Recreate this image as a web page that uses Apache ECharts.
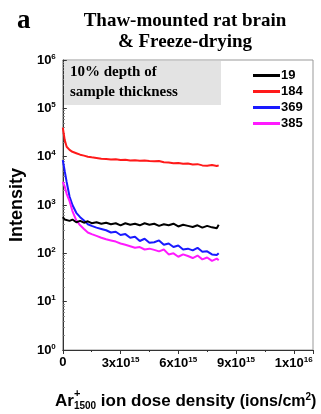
<!DOCTYPE html>
<html>
<head>
<meta charset="utf-8">
<script src="https://cdn.jsdelivr.net/npm/echarts@6/dist/echarts.min.js"></script>
<style>
html, body { margin: 0; padding: 0; background: #fff; }
#chart { width: 321px; height: 414px; }
</style>
</head>
<body>
<div id="chart"></div>
<script>
// dose density, units of 1e15 ions/cm2
var doseX = [0, 0.1, 0.2, 0.35, 0.5, 0.7, 0.9, 1.1, 1.3, 1.5, 1.75, 2.0, 2.25, 2.5, 2.75, 3.0, 3.25, 3.5, 3.75,
    4.0, 4.25, 4.5, 4.75, 5.0, 5.25, 5.5, 5.75, 6.0, 6.25, 6.5, 6.75, 7.0, 7.25, 7.5, 7.75, 8.0, 8.1];

var seriesNames = ['19', '184', '369', '385'];
var seriesColors = ['#000000', '#ff1a1a', '#1a1aff', '#ff1aff'];

var mz19 = [560, 500, 540, 470, 500, 440, 470, 430, 460, 420, 440, 410, 430, 400, 420, 380, 420, 390, 410,
    380, 420, 390, 410, 370, 400, 380, 410, 360, 390, 370, 350, 380, 340, 370, 345, 330, 390];
var mz184 = [40000, 22000, 16000, 13800, 12600, 11800, 11000, 10500, 10000, 9700, 9400, 9100, 8900, 8700, 8800, 8500, 8600, 8300, 8400,
    8200, 8300, 8100, 8000, 8100, 7700, 7600, 7300, 7400, 7100, 7200, 6900, 7000, 6600, 6500, 6700, 6400, 6600];
var mz369 = [8500, 5000, 3000, 1500, 1000, 690, 560, 480, 400, 370, 340, 320, 300, 270, 280, 240, 250, 210, 220,
    180, 200, 165, 170, 185, 150, 160, 135, 145, 120, 125, 115, 130, 108, 110, 95, 92, 100];
var mz385 = [3000, 2400, 1700, 1200, 750, 480, 380, 320, 270, 250, 230, 210, 195, 185, 175, 160, 150, 140, 130,
    135, 120, 125, 118, 110, 120, 95, 100, 85, 95, 88, 80, 90, 75, 82, 70, 78, 72];

var xTickValues = [0, 3, 6, 9, 12];
var xTickMant = ['0', '3x10', '6x10', '9x10', '1x10'];
var xTickExp = ['', '15', '15', '15', '16'];

var chart = echarts.init(document.getElementById('chart'));

function pairUp(ys) {
    var out = [];
    for (var i = 0; i < doseX.length; i++) {
        out.push([doseX[i], ys[i]]);
    }
    return out;
}

var allValues = [mz19, mz184, mz369, mz385];
var series = [];
for (var i = 0; i < seriesNames.length; i++) {
    series.push({
        name: seriesNames[i],
        type: 'line',
        showSymbol: false,
        symbol: 'none',
        data: pairUp(allValues[i]),
        lineStyle: { color: seriesColors[i], width: 2 },
        itemStyle: { color: seriesColors[i] },
        z: i == 0 ? 5 : 3
    });
}

var option = {
    animation: false,
    backgroundColor: '#fff',
    grid: {
        left: 62, right: 8, top: 60, bottom: 64,
        show: true, borderColor: '#999', borderWidth: 1
    },
    legend: {
        orient: 'vertical',
        left: 248, top: 64,
        itemWidth: 27, itemHeight: 3, itemGap: 3,
        icon: 'rect',
        data: seriesNames,
        textStyle: { fontFamily: 'Liberation Sans', fontWeight: 'bold', fontSize: 13, color: '#000', padding: [0, 0, 0, -4] }
    },
    xAxis: {
        type: 'value',
        min: 0, max: 13, interval: 3,
        axisLine: { show: true, lineStyle: { color: '#333', width: 1 } },
        axisTick: { show: true, inside: false, length: 4, lineStyle: { color: '#333' } },
        minorTick: { show: true, splitNumber: 2, length: 2, lineStyle: { color: '#333' } },
        splitLine: { show: false },
        axisLabel: {
            margin: 6,
            formatter: function(v) {
                var k = xTickValues.indexOf(v);
                if (k < 0) return '';
                if (!xTickExp[k]) return '{m|' + xTickMant[k] + '}';
                return '{m|' + xTickMant[k] + '}{e|' + xTickExp[k] + '}';
            },
            rich: {
                m: { fontFamily: 'Liberation Sans', fontWeight: 'bold', fontSize: 13, color: '#000' },
                e: { fontFamily: 'Liberation Sans', fontWeight: 'bold', fontSize: 8, color: '#000', verticalAlign: 'top', padding: [0, 0, 7, 0] }
            }
        }
    },
    yAxis: {
        type: 'log',
        logBase: 10,
        min: 1, max: 1000000,
        name: 'Intensity',
        nameLocation: 'middle',
        nameGap: 34,
        nameTextStyle: { fontFamily: 'Liberation Sans', fontWeight: 'bold', fontSize: 18, color: '#000' },
        axisLine: { show: true, lineStyle: { color: '#333', width: 1 } },
        axisTick: { show: true, inside: true, length: 4, lineStyle: { color: '#333' } },
        minorTick: { show: true, splitNumber: 9, length: 2, lineStyle: { color: '#777' } },
        splitLine: { show: false },
        axisLabel: {
            margin: 7,
            formatter: function(v) {
                var p = Math.round(Math.log(v) / Math.LN10);
                return '{m|10}{e|' + p + '}';
            },
            rich: {
                m: { fontFamily: 'Liberation Sans', fontWeight: 'bold', fontSize: 13, color: '#000' },
                e: { fontFamily: 'Liberation Sans', fontWeight: 'bold', fontSize: 8, color: '#000', verticalAlign: 'top', padding: [0, 0, 7, 0] }
            }
        }
    },
    graphic: [
        { type: 'text', left: 17, top: 8, style: { text: 'a', font: 'bold 27px "Liberation Serif"', fill: '#000' } },
        { type: 'text', x: 185, y: 21, style: { text: 'Thaw-mounted rat brain', font: 'bold 19px "Liberation Serif"', fill: '#000', align: 'center', verticalAlign: 'middle' } },
        { type: 'text', x: 185, y: 42, style: { text: '& Freeze-drying', font: 'bold 19px "Liberation Serif"', fill: '#000', align: 'center', verticalAlign: 'middle' } },
        { type: 'rect', shape: { x: 64, y: 61, width: 157, height: 44 }, style: { fill: '#e3e3e3' }, z: 1 },
        { type: 'text', x: 70, y: 72, style: { text: '10% depth of', font: 'bold 15px "Liberation Serif"', fill: '#000', verticalAlign: 'middle' }, z: 2 },
        { type: 'text', x: 70, y: 92, style: { text: 'sample thickness', font: 'bold 15px "Liberation Serif"', fill: '#000', verticalAlign: 'middle' }, z: 2 },
        {
            type: 'text', left: 55, top: 392,
            style: {
                text: '{a|Ar}{s|1500}{a| ion dose density }{b|(ions/cm}{p|2}{b|)}',
                rich: {
                    a: { fontFamily: 'Liberation Sans', fontWeight: 'bold', fontSize: 17, fill: '#000' },
                    b: { fontFamily: 'Liberation Sans', fontWeight: 'bold', fontSize: 16, fill: '#000' },
                    s: { fontFamily: 'Liberation Sans', fontWeight: 'bold', fontSize: 10, fill: '#000', verticalAlign: 'bottom', padding: [9, 0, 0, 0] },
                    p: { fontFamily: 'Liberation Sans', fontWeight: 'bold', fontSize: 10, fill: '#000', verticalAlign: 'top', padding: [0, 0, 8, 0] }
                }
            }
        },
        { type: 'text', left: 74, top: 388, style: { text: '+', font: 'bold 11px "Liberation Sans"', fill: '#000' } }
    ],
    series: series
};

chart.setOption(option);
</script>
</body>
</html>
